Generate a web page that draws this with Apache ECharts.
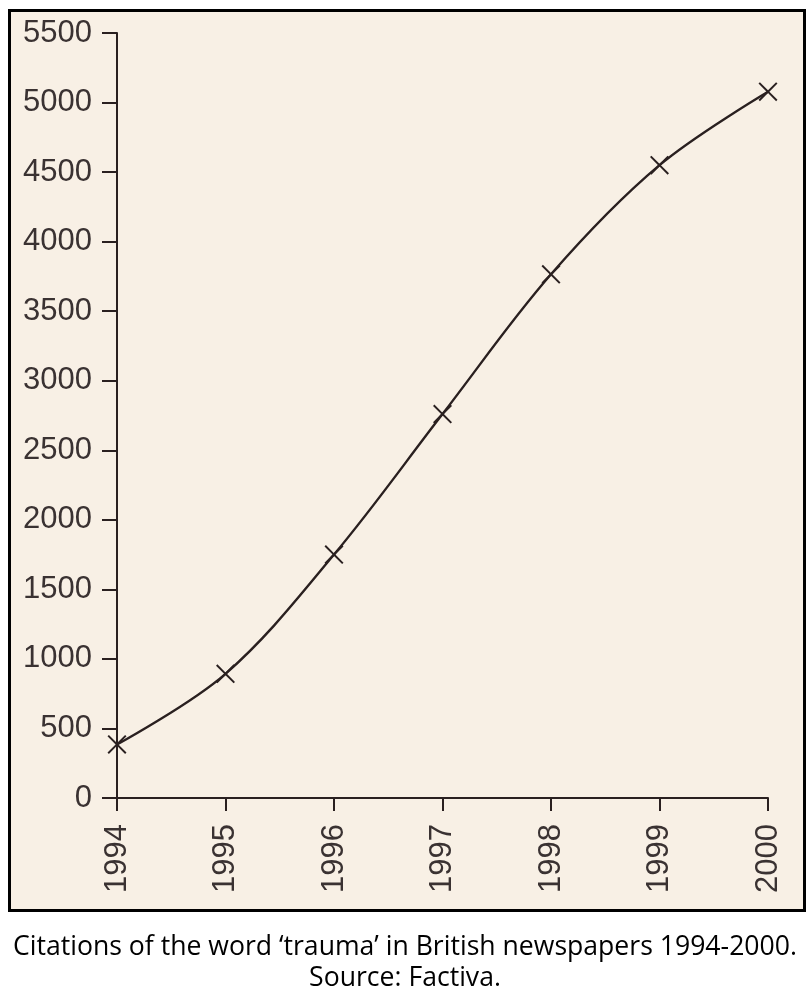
<!DOCTYPE html>
<html>
<head>
<meta charset="utf-8">
<script src="https://cdn.jsdelivr.net/npm/echarts@6/dist/echarts.min.js"></script>
<style>
html,body{margin:0;padding:0;background:#fff;}
#chart{width:810px;height:999px;}
</style>
</head>
<body>
<div id="chart"></div>
<script>
var years = ['1994', '1995', '1996', '1997', '1998', '1999', '2000'];
var citations = [385, 893, 1750, 2760, 3765, 4550, 5078];
var yTicks = [0, 500, 1000, 1500, 2000, 2500, 3000, 3500, 4000, 4500, 5000, 5500];
var captionLine1 = 'Citations of the word \u2018trauma\u2019 in British newspapers 1994-2000.';
var captionLine2 = 'Source: Factiva.';

var ink = '#2a2020';
var labelColor = '#3a3232';
var crossPath = 'path://M14.51,0.36L15.64,1.49L9.13,8L15.64,14.51L14.51,15.64L8,9.13L1.49,15.64L0.36,14.51L6.87,8L0.36,1.49L1.49,0.36L8,6.87Z';

var chart = echarts.init(document.getElementById('chart'), null, {renderer: 'canvas'});
chart.setOption({
  backgroundColor: '#ffffff',
  animation: false,
  graphic: [
    {
      type: 'rect', z: -100, silent: true,
      shape: {x: 9.5, y: 10.5, width: 795, height: 900},
      style: {fill: '#f8f0e5', stroke: '#000000', lineWidth: 3}
    },
    {
      type: 'text', left: 'center', top: 934, silent: true,
      style: {text: captionLine1, fill: '#000000', font: '26.6px "Open Sans"', textAlign: 'center'}
    },
    {
      type: 'text', left: 'center', top: 965, silent: true,
      style: {text: captionLine2, fill: '#000000', font: '26.6px "Open Sans"', textAlign: 'center'}
    }
  ],
  grid: {left: 117, right: 42, top: 33, bottom: 201, containLabel: false},
  xAxis: {
    type: 'category',
    data: years,
    boundaryGap: false,
    axisLine: {show: true, lineStyle: {color: ink, width: 2}},
    axisTick: {show: true, length: 13, lineStyle: {color: ink, width: 2}},
    axisLabel: {rotate: 90, margin: 26, color: labelColor, fontSize: 31, fontFamily: 'Liberation Sans, Arial, sans-serif'},
    splitLine: {show: false}
  },
  yAxis: {
    type: 'value',
    min: 0, max: 5500, interval: 500,
    axisLine: {show: true, lineStyle: {color: ink, width: 2}},
    axisTick: {show: true, length: 15, lineStyle: {color: ink, width: 2}},
    axisLabel: {margin: 25, color: labelColor, fontSize: 31, fontFamily: 'Liberation Sans, Arial, sans-serif',
      formatter: function (v) { return String(v); }},
    splitLine: {show: false}
  },
  series: [{
    type: 'line',
    data: citations,
    smooth: 0.35,
    symbol: crossPath,
    symbolSize: 19,
    showAllSymbol: true,
    lineStyle: {color: ink, width: 2.4},
    itemStyle: {color: ink},
    z: 5
  }]
});
</script>
</body>
</html>
